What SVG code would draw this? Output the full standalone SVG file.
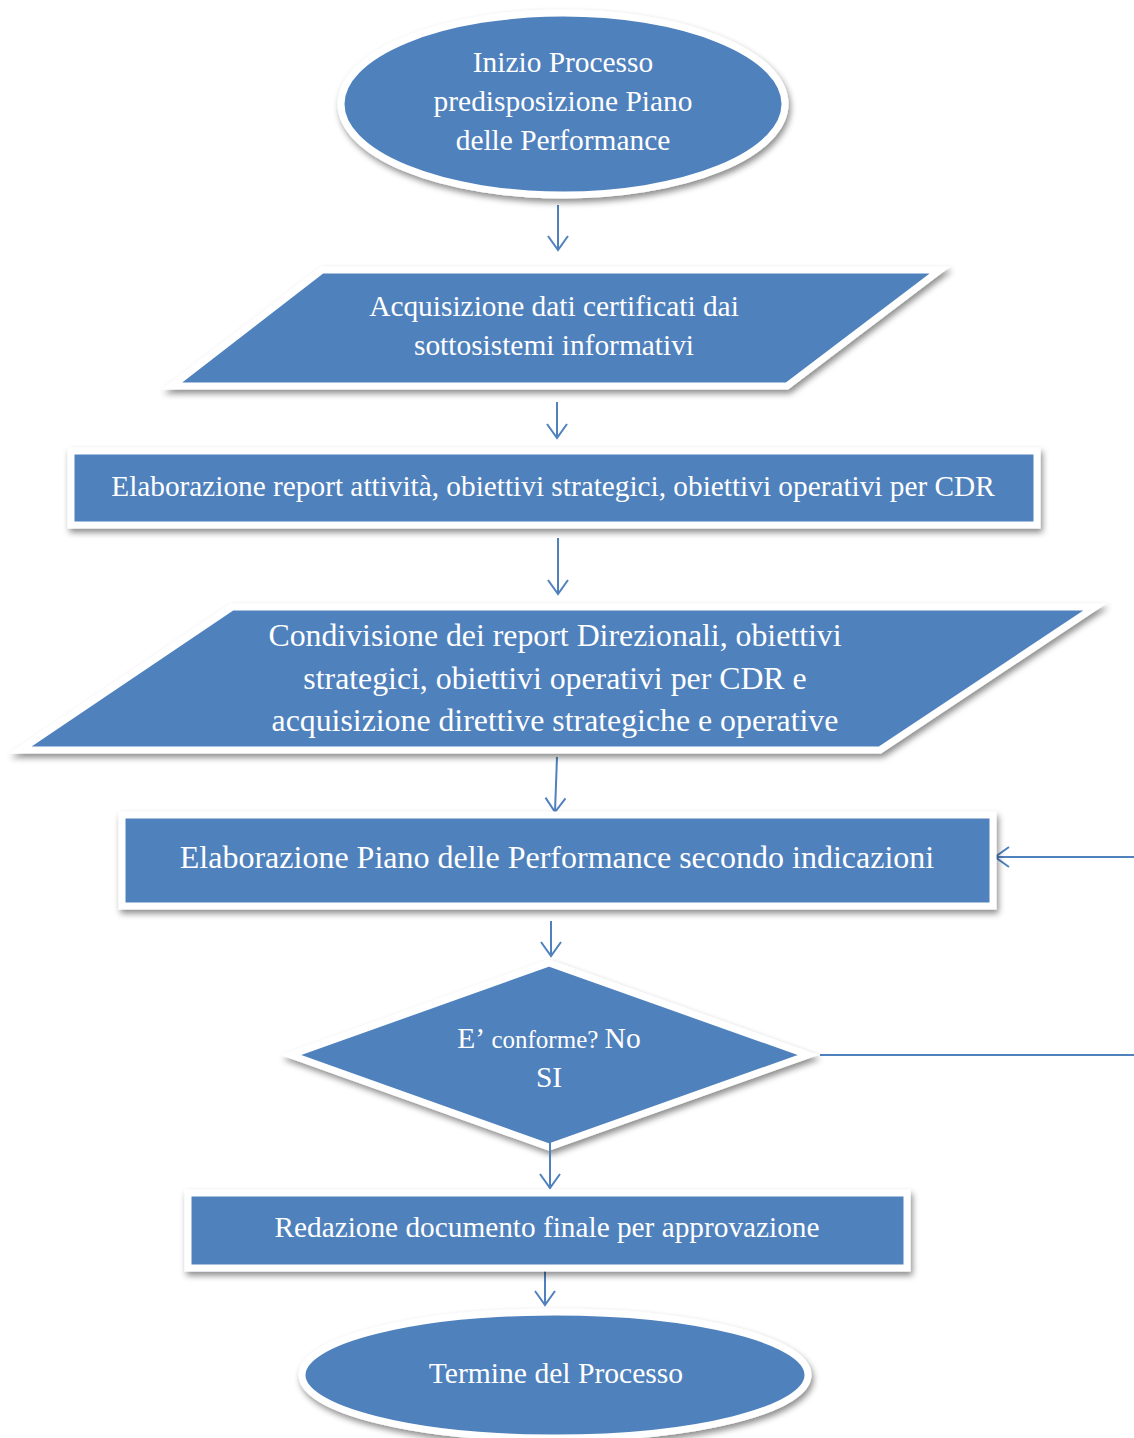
<svg xmlns="http://www.w3.org/2000/svg" width="1134" height="1438" viewBox="0 0 1134 1438">
<defs>
<filter id="sh" x="-10%" y="-20%" width="120%" height="150%">
<feDropShadow dx="2" dy="4" stdDeviation="3" flood-color="#000" flood-opacity="0.45"/>
</filter>
<marker id="ah" markerWidth="22" markerHeight="22" viewBox="0 0 22 22" refX="16" refY="11" orient="auto" markerUnits="userSpaceOnUse">
<path d="M2,1 L16,11 L2,21" fill="none" stroke="#4F81BD" stroke-width="2"/>
</marker>
</defs>
<style>
.sh{fill:#4F81BD;stroke:#FFFFFF;stroke-width:7;filter:url(#sh)}
.t{font-family:"Liberation Serif","Times New Roman",serif;fill:#FFFFFF;text-anchor:middle}
.c{fill:none;stroke:#4F81BD;stroke-width:2}
</style>
<rect width="1134" height="1438" fill="#FFFFFF"/>
<g id="connectors">
<line class="c" x1="558" y1="205" x2="558" y2="250" marker-end="url(#ah)"/>
<line class="c" x1="557" y1="402" x2="557" y2="438" marker-end="url(#ah)"/>
<line class="c" x1="558" y1="538" x2="558" y2="594" marker-end="url(#ah)"/>
<line class="c" x1="557" y1="757" x2="555" y2="812" marker-end="url(#ah)"/>
<line class="c" x1="551" y1="921" x2="551" y2="956" marker-end="url(#ah)"/>
<line class="c" x1="1134" y1="857" x2="995" y2="857" marker-end="url(#ah)"/>
<line class="c" x1="820" y1="1055" x2="1134" y2="1055"/>
<line class="c" x1="545" y1="1268" x2="545" y2="1305" marker-end="url(#ah)"/>
</g>
<g id="start">
<ellipse class="sh" cx="563" cy="104" rx="222" ry="91"/>
<text class="t" font-size="29.4"><tspan x="563" y="72">Inizio Processo</tspan><tspan x="563" y="111">predisposizione Piano</tspan><tspan x="563" y="150">delle Performance</tspan></text>
</g>
<g id="acquisizione">
<polygon class="sh" points="322,270 940,270 787,386 172,386"/>
<text class="t" font-size="29.4"><tspan x="554" y="316">Acquisizione dati certificati dai</tspan><tspan x="554" y="355">sottosistemi informativi</tspan></text>
</g>
<g id="elaborazione-report">
<rect class="sh" x="71" y="451" width="966" height="74"/>
<text class="t" font-size="29.3" x="553" y="496">Elaborazione report attività, obiettivi strategici, obiettivi operativi per CDR</text>
</g>
<g id="condivisione">
<polygon class="sh" points="232,607 1095,607 880,750 20,750"/>
<text class="t" font-size="31.8"><tspan x="555" y="646">Condivisione dei report Direzionali, obiettivi</tspan><tspan x="555" y="689">strategici, obiettivi operativi per CDR e</tspan><tspan x="555" y="731">acquisizione direttive strategiche e operative</tspan></text>
</g>
<g id="elaborazione-piano">
<rect class="sh" x="122" y="815" width="871" height="91"/>
<text class="t" font-size="32" x="557" y="868">Elaborazione Piano delle Performance secondo indicazioni</text>
</g>
<g id="decisione">
<polygon class="sh" points="549,963 808,1055 549,1147 291,1055"/>
<text class="t" font-size="29.5"><tspan x="549" y="1048">E’<tspan font-size="25"> conforme? </tspan>No</tspan><tspan x="549" y="1087">SI</tspan></text>
</g>
<line class="c" x1="550" y1="1120" x2="550" y2="1188" marker-end="url(#ah)"/>
<g id="redazione">
<rect class="sh" x="188" y="1193" width="719" height="75"/>
<text class="t" font-size="29.3" x="547" y="1237">Redazione documento finale per approvazione</text>
</g>
<g id="end">
<ellipse class="sh" cx="555" cy="1375" rx="253" ry="63"/>
<text class="t" font-size="29.6" x="556" y="1383">Termine del Processo</text>
</g>
</svg>
